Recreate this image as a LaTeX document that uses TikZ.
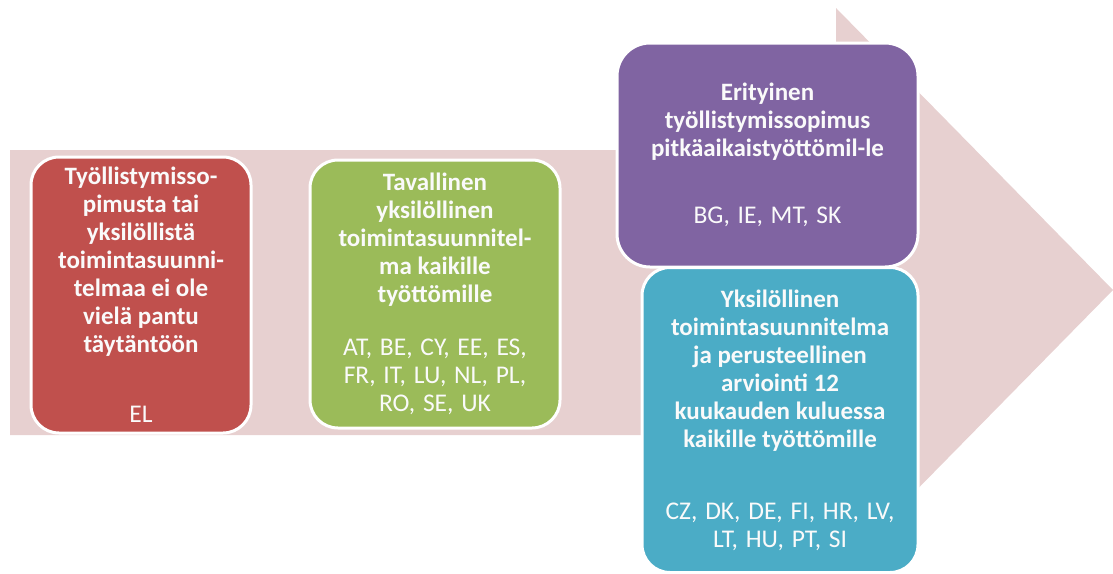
\documentclass[tikz,border=0pt]{standalone}
\usepackage{fontspec}
\setmainfont{Carlito}
\newfontfamily\ccfont{Carlito}[WordSpace=1.35]
\definecolor{arrowfill}{RGB}{231,208,208}
\definecolor{boxred}{RGB}{192,80,77}
\definecolor{boxgreen}{RGB}{155,187,89}
\definecolor{boxpurple}{RGB}{128,100,162}
\definecolor{boxteal}{RGB}{75,172,198}
\definecolor{txt}{RGB}{250,250,250}
\newcommand{\hd}{\fontsize{25}{28}\selectfont\bfseries}
\newcommand{\cc}{\ccfont\fontsize{25.5}{28}\selectfont}
\begin{document}
\begin{tikzpicture}[x=1pt,y=-1pt,
  card/.style={draw=white, line width=3pt, rounded corners=28pt, inner sep=0pt,
    align=center, text=txt, font=\fontsize{25}{28}\selectfont}]
\useasboundingbox (0,0) rectangle (1113,573);
\fill[arrowfill] (10,150) -- (836,150) -- (836,8) -- (1113,290) -- (836,572) -- (836,435) -- (10,435) -- cycle;
\node[card, fill=boxred, minimum width=220pt, minimum height=276pt] (red) at (141,295)
  {\hd Työllistymisso-\\\hd pimusta tai\\\hd yksilöllistä\\\hd toimintasuunni-\\\hd telmaa ei ole\\\hd vielä pantu\\\hd täytäntöön\\[42pt]\cc EL};
\node[card, fill=boxgreen, minimum width=250pt, minimum height=268pt] (green) at (435,294)
  {\hd Tavallinen\\\hd yksilöllinen\\\hd toimintasuunnitel-\\\hd ma kaikille\\\hd työttömille\\[25pt]\cc AT, BE, CY, EE, ES,\\\cc FR, IT, LU, NL, PL,\\\cc RO, SE, UK};
\node[card, fill=boxpurple, minimum width=301pt, minimum height=224pt, rounded corners=33pt] (purple) at (767.5,155)
  {\hd Erityinen\\\hd työllistymissopimus\\\hd pitkäaikaistyöttömil-le\\[39pt]\cc BG, IE, MT, SK};
\node[card, fill=boxteal, minimum width=276pt, minimum height=305pt] (teal) at (780,420)
  {\hd Yksilöllinen\\\hd toimintasuunnitelma\\\hd ja perusteellinen\\\hd arviointi 12\\\hd kuukauden kuluessa\\\hd kaikille työttömille\\[44pt]\cc CZ, DK, DE, FI, HR, LV,\\\cc LT, HU, PT, SI};
\end{tikzpicture}
\end{document}
